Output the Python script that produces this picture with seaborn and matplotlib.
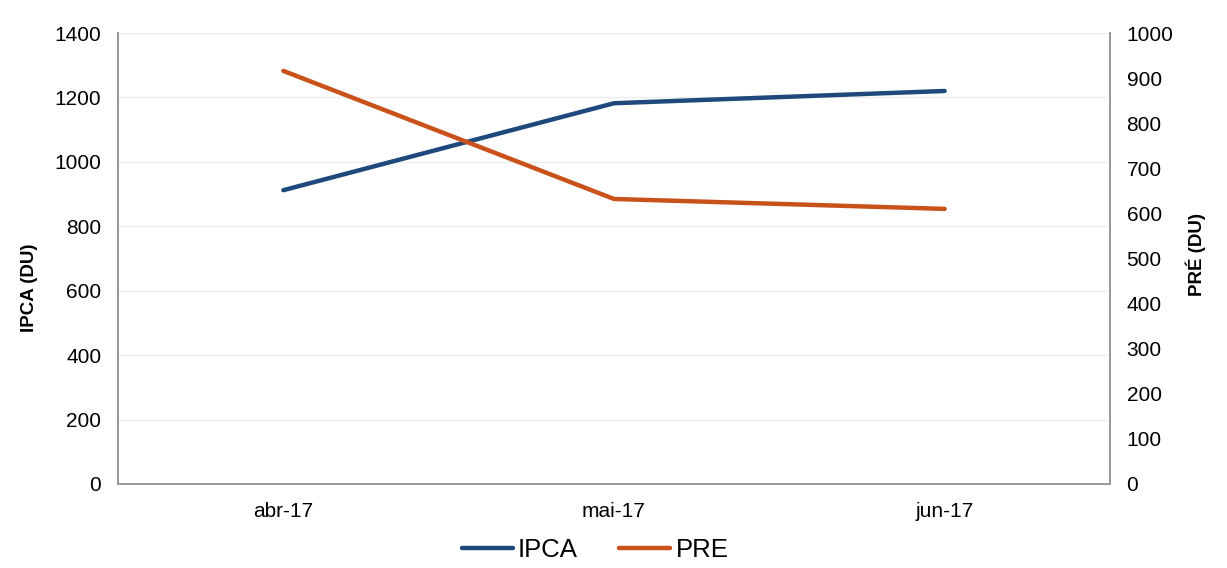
import pandas as pd
import matplotlib.pyplot as plt
import seaborn as sns

# Data
meses = ['abr-17', 'mai-17', 'jun-17']
ipca = [912, 1182, 1220]
pre = [916, 632, 610]

df = pd.DataFrame({'mes': meses, 'IPCA': ipca, 'PRE': pre})

sns.set_style('white')
plt.rcParams['font.family'] = ['Liberation Sans', 'DejaVu Sans']

fig, ax = plt.subplots(figsize=(12.27, 5.68), dpi=100)
fig.subplots_adjust(left=0.0962, right=0.9046, top=0.9419, bottom=0.1479)
ax2 = ax.twinx()

sns.lineplot(data=df, x='mes', y='IPCA', ax=ax, color='#1F497D', lw=3.2,
             solid_capstyle='round', label='IPCA', legend=False)
sns.lineplot(data=df, x='mes', y='PRE', ax=ax2, color='#C9511A', lw=3.2,
             solid_capstyle='round', label='PRE', legend=False)

ax.set_xlim(-0.5, 2.5)
ax.set_ylim(0, 1400)
ax.set_yticks(range(0, 1401, 200))
ax2.set_ylim(0, 1000)
ax2.set_yticks(range(0, 1001, 100))

ax.grid(axis='y', color='#EDEDED', lw=1)
ax.set_axisbelow(True)

for a in (ax, ax2):
    a.tick_params(length=0, labelsize=15, colors='black')
    a.spines['top'].set_visible(False)
    for s in ('left', 'right', 'bottom'):
        a.spines[s].set_color('#999999')
        a.spines[s].set_linewidth(1.3)
ax.tick_params(axis='x', pad=13)
ax.tick_params(axis='y', pad=12)
ax2.tick_params(axis='y', pad=12)

ax.set_xlabel('')
ax.set_ylabel('')
ax2.set_ylabel('')

# axis titles placed like the original (not centred on the axis)
fig.text(30 / 1227, 1 - 288 / 568, 'IPCA (DU)', rotation=90, ha='center', va='center',
         fontsize=13.5, fontweight='bold', color='black')
fig.text(1196 / 1227, 1 - 254 / 568, 'PRÉ (DU)', rotation=90, ha='center', va='center',
         fontsize=13.5, fontweight='bold', color='black')

h1, l1 = ax.get_legend_handles_labels()
h2, l2 = ax2.get_legend_handles_labels()
fig.legend(h1 + h2, l1 + l2, loc='center', bbox_to_anchor=(595 / 1227, 1 - 550 / 568),
           ncol=2, frameon=False, fontsize=18.5, handlelength=2.0, handletextpad=0.2,
           columnspacing=1.6, labelcolor='black')

fig.savefig('out.png', dpi=100)
